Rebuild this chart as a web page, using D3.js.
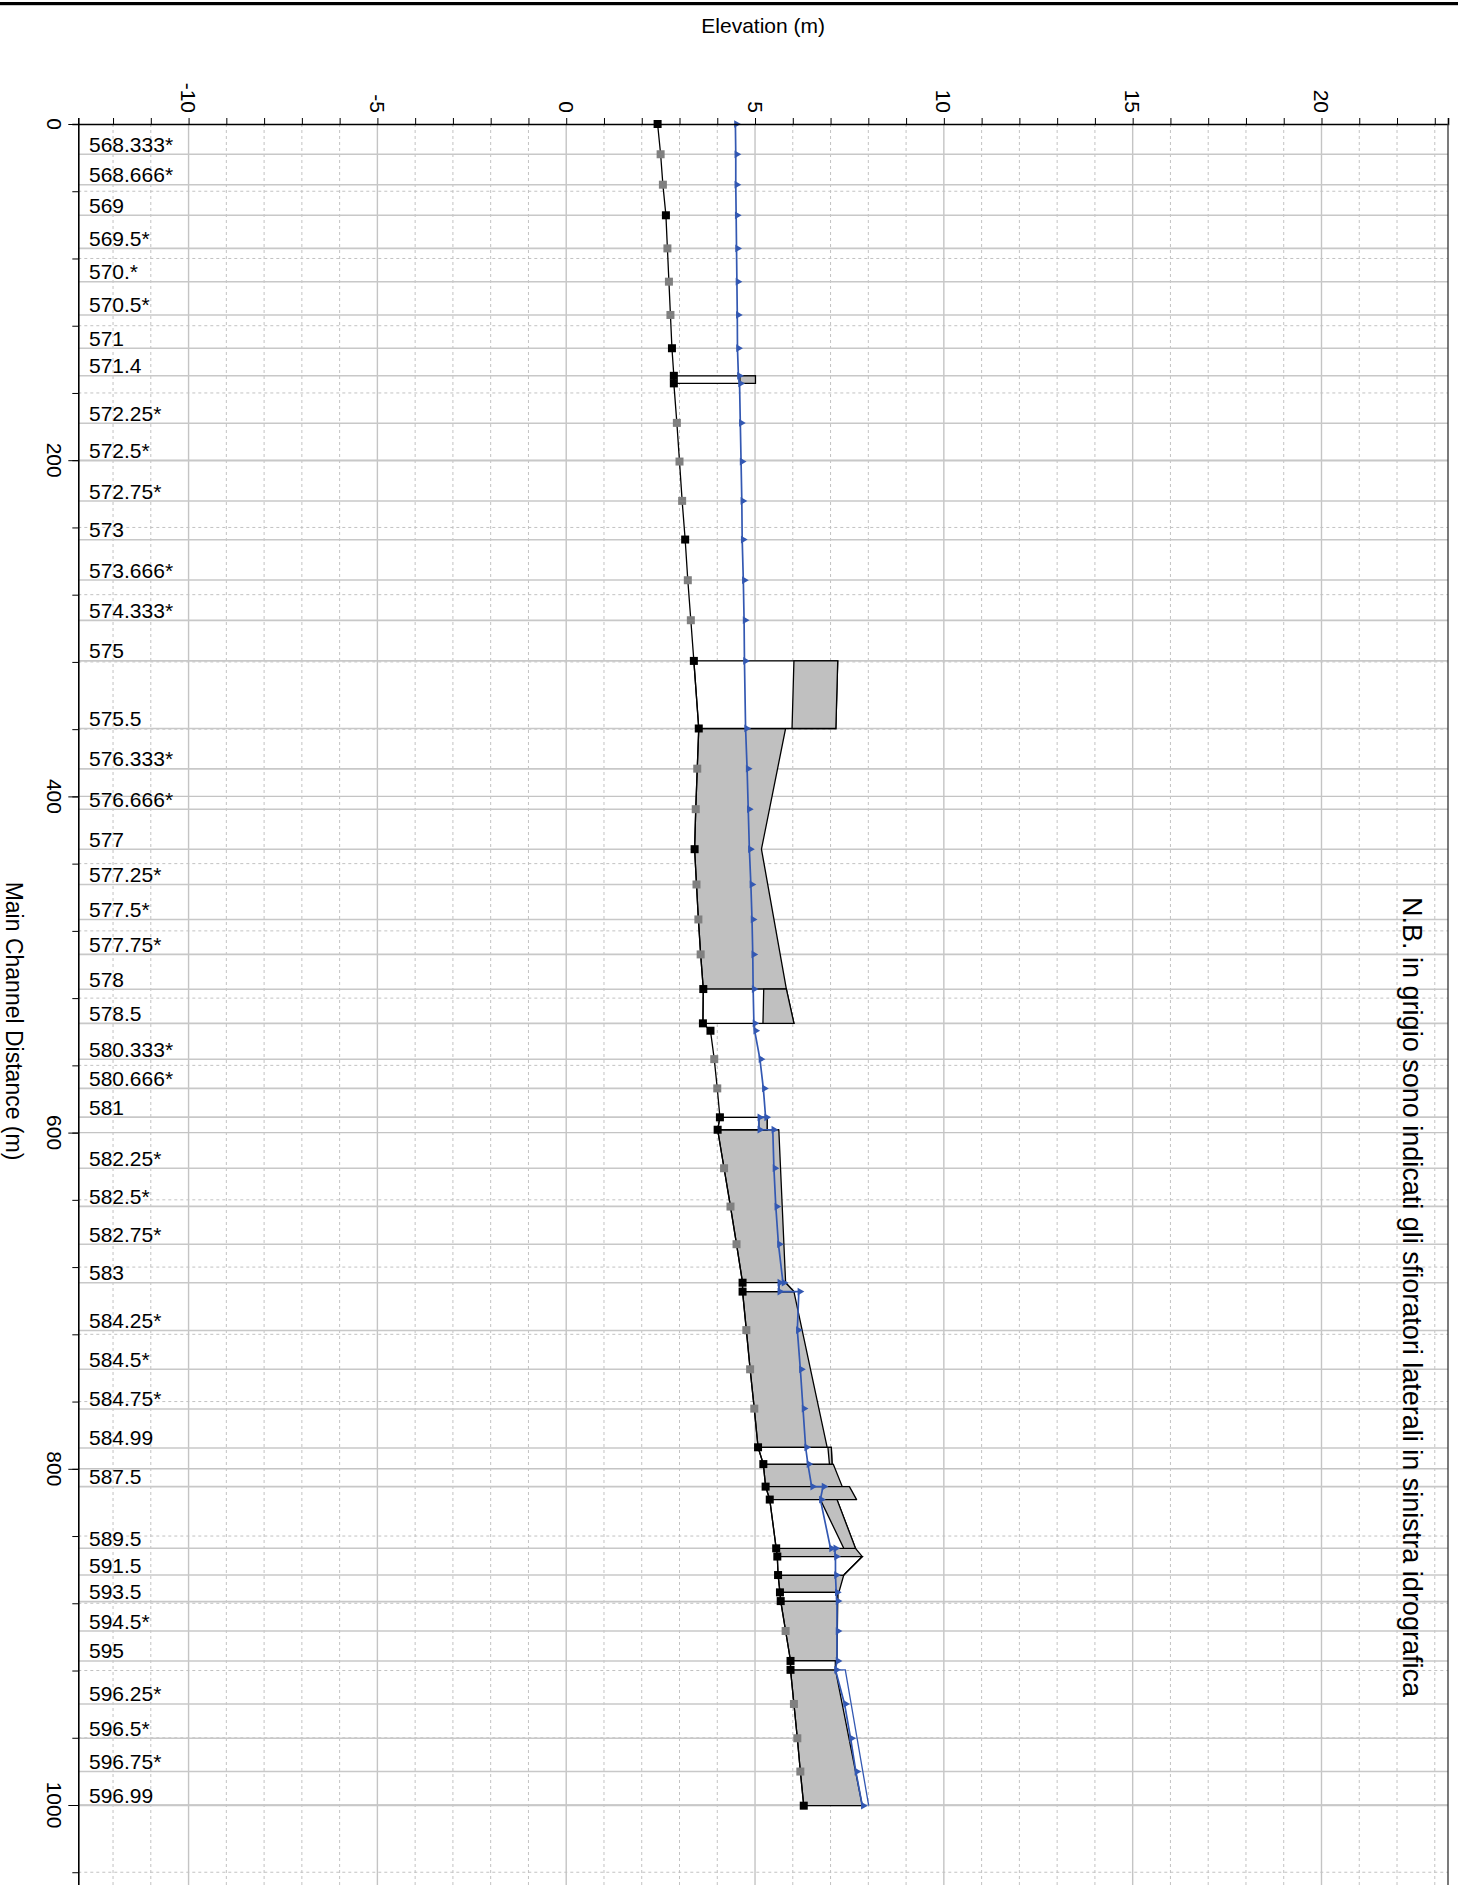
<!DOCTYPE html>
<html><head><meta charset="utf-8">
<script src="https://cdn.jsdelivr.net/npm/d3@7"></script>
<style>
body{margin:0;background:#fff;}
svg{display:block;font-family:"Liberation Sans",Arial,sans-serif;}
</style>
</head><body>
<svg id="c" width="1458" height="1885"></svg>
<script>
// ---------------- DATA ----------------
const elevTickLabels = [-10, -5, 0, 5, 10, 15, 20];
const distTickLabels = [0, 200, 400, 600, 800, 1000];

const stationLabels = ["568.333*","568.666*","569","569.5*","570.*","570.5*","571","571.4","572.25*","572.5*","572.75*","573","573.666*","574.333*","575","575.5","576.333*","576.666*","577","577.25*","577.5*","577.75*","578","578.5","580.333*","580.666*","581","582.25*","582.5*","582.75*","583","584.25*","584.5*","584.75*","584.99","587.5","589.5","591.5","593.5","594.5*","595","596.25*","596.5*","596.75*","596.99"];
const stationDist = [18.0,36.1,54.3,74.0,93.8,113.6,133.4,149.8,178.0,200.3,224.3,247.3,271.3,295.3,319.4,359.6,383.6,407.6,431.4,452.4,473.2,494.0,514.7,535.0,556.4,573.7,590.8,621.2,643.9,666.4,689.3,717.7,740.8,764.4,787.6,810.6,847.3,863.2,879.0,896.5,914.3,939.9,960.3,980.1,1000.2];

// channel bed (Ground)
const bedDist = [0,18,36.1,54.3,74,93.8,113.6,133.4,149.8,154.3,177.8,200.8,224.2,247.2,271.4,295.2,319.4,359.6,383.5,407.6,431.4,452.4,473.2,494,514.6,535,539.4,556.3,573.7,590.9,598.3,621.2,644,666.4,689.3,694.6,717.5,740.8,764.2,787.2,797.2,810.6,818.3,847.3,852.2,863.2,873.5,878.7,896.5,914.3,919.6,939.9,960.3,980.1,1000.4];
const bedElev = [2.42,2.50,2.56,2.64,2.68,2.72,2.76,2.80,2.85,2.85,2.93,3.00,3.07,3.15,3.22,3.30,3.38,3.51,3.47,3.43,3.40,3.45,3.50,3.56,3.63,3.62,3.82,3.92,4.00,4.07,4.01,4.18,4.35,4.51,4.67,4.67,4.77,4.87,4.98,5.08,5.22,5.28,5.39,5.56,5.59,5.61,5.66,5.68,5.81,5.94,5.94,6.03,6.12,6.20,6.29];
const bedReal = [1,0,0,1,0,0,0,1,1,1,0,0,0,1,0,0,1,1,0,0,1,0,0,0,1,1,1,0,0,1,1,0,0,0,1,1,0,0,0,1,1,1,1,1,1,1,1,1,0,1,1,0,0,0,1];

// water surface
const wsDist = [0,18,36.1,54.3,74,93.8,113.6,133.4,149.8,154.3,177.8,200.8,224.2,247.2,271.4,295.2,319.4,359.6,383.5,407.6,431.4,452.4,473.2,494,514.6,535,539.4,556.3,573.7,590.9,590.9,598.3,598.3,621.2,644,666.4,689.3,689.3,694.6,694.6,717.5,740.8,764.2,787.2,797.2,810.6,810.6,818.3,847.3,847.3,852.2,863.2,873.5,878.7,896.5,914.3,919.6,939.9,960.3,980.1,1000.4];
const wsElev = [4.48,4.49,4.49,4.50,4.51,4.52,4.53,4.535,4.56,4.59,4.61,4.63,4.65,4.66,4.69,4.71,4.72,4.75,4.79,4.82,4.85,4.89,4.92,4.94,4.95,4.97,4.99,5.13,5.22,5.28,5.10,5.10,5.47,5.50,5.55,5.62,5.74,5.63,5.63,6.16,6.12,6.20,6.27,6.34,6.40,6.50,6.80,6.73,7.00,7.11,7.13,7.13,7.15,7.17,7.17,7.17,7.13,7.37,7.53,7.67,7.84];
const wsExtra = [[919.6,7.13],[919.6,7.39],[1000.4,8.01]];

// structures: [dist1, dist2, lowChord1, lowChord2, highChord1, highChord2]
const bridges = [
  [149.8,154.3,4.60,4.60,5.01,5.01],
  [319.4,359.6,6.03,5.98,7.19,7.14],
  [514.6,535.0,5.23,5.21,5.83,6.03],
  [590.9,598.3,5.10,5.10,5.32,5.32],
  [689.3,694.6,5.63,5.63,5.81,6.03],
  [787.2,797.2,6.93,6.97,7.02,7.04],
  [818.3,847.3,6.73,7.35,7.17,7.66],
  [852.2,863.2,7.84,7.35,7.84,7.35],
  [873.5,878.7,7.19,7.19,7.19,7.19],
  [914.3,919.6,7.13,7.13,7.13,7.13]
];
// lateral weirs (grey): crest points [dist, elev]
const weirs = [
  [[359.6,5.81],[431.4,5.17],[514.6,5.83]],
  [[598.3,5.63],[689.3,5.81]],
  [[694.6,6.03],[787.2,6.91]],
  [[797.2,7.07],[810.6,7.31]],
  [[810.6,7.50],[818.3,7.69]],
  [[847.3,7.66],[852.2,7.84]],
  [[863.2,7.35],[873.5,7.22]],
  [[878.7,7.19],[914.3,7.17]],
  [[919.6,7.13],[1000.4,7.84]]
];
const note = "N.B. in grigio sono indicati gli sfioratori laterali in sinistra idrografica";

// ---------------- CHART ----------------
const svg = d3.select("#c");
const L = 78.3, R = 1448, T = 124;
const x = d3.scaleLinear().domain([-12.92, 23.35]).range([L, R]);
const y = d3.scaleLinear().domain([0, 1060]).range([T, T + 1060 * 1.681]);
const B = y(1060);

svg.append("rect").attr("x", 0).attr("y", 2).attr("width", 1458).attr("height", 3.2).attr("fill", "#000");

// grid
const gridX = d3.range(-12, 24);
svg.append("g").selectAll("line").data(gridX).join("line")
  .attr("x1", d => x(d)).attr("x2", d => x(d)).attr("y1", T).attr("y2", B)
  .attr("stroke", d => d % 5 === 0 ? "#c4c4c4" : "#c2c2c2")
  .attr("stroke-width", d => d % 5 === 0 ? 1.4 : 1)
  .attr("stroke-dasharray", d => d % 5 === 0 ? null : "3,3");
const gridY = d3.range(40, 1061, 40);
svg.append("g").selectAll("line").data(gridY).join("line")
  .attr("x1", L).attr("x2", R).attr("y1", d => y(d)).attr("y2", d => y(d))
  .attr("stroke", d => d % 200 === 0 ? "#c4c4c4" : "#c2c2c2")
  .attr("stroke-width", d => d % 200 === 0 ? 1.4 : 1)
  .attr("stroke-dasharray", d => d % 200 === 0 ? null : "3,3");

// station lines + labels
const st = stationLabels.map((s, i) => ({ s, d: stationDist[i] }));
svg.append("g").selectAll("line").data(st).join("line")
  .attr("x1", L).attr("x2", R).attr("y1", d => y(d.d)).attr("y2", d => y(d.d))
  .attr("stroke", "#c8c8c8").attr("stroke-width", 1.6);
svg.append("g").selectAll("text").data(st).join("text")
  .attr("x", 89).attr("y", d => y(d.d) - 2.5)
  .attr("font-size", 21).attr("fill", "#000").text(d => d.s);

// helpers
const bed = bedDist.map((d, i) => ({ d, e: bedElev[i], r: bedReal[i] }));
const bedAt = dd => {
  for (let i = 0; i < bed.length - 1; i++) {
    if (dd >= bed[i].d && dd <= bed[i + 1].d) {
      const t = (dd - bed[i].d) / (bed[i + 1].d - bed[i].d || 1);
      return bed[i].e + t * (bed[i + 1].e - bed[i].e);
    }
  }
  return bed[bed.length - 1].e;
};
const bedBetween = (d1, d2) => bed.filter(b => b.d > d1 && b.d < d2).map(b => [b.d, b.e]);
const pt = p => [x(p[1]), y(p[0])];
const poly = pts => "M" + pts.map(p => pt(p).join(",")).join("L") + "Z";

// weirs
svg.append("g").selectAll("path").data(weirs).join("path")
  .attr("d", c => {
    const d1 = c[0][0], d2 = c[c.length - 1][0];
    const base = [[d2, bedAt(d2)], ...bedBetween(d1, d2).reverse(), [d1, bedAt(d1)]];
    return poly([...c, ...base]);
  })
  .attr("fill", "#c0c0c0").attr("stroke", "#000").attr("stroke-width", 1.3).attr("stroke-linejoin", "round");

// bridges: white opening + grey deck
const bg = svg.append("g");
bridges.forEach(b => {
  const [d1, d2, l1, l2, h1, h2] = b;
  bg.append("path").attr("d", poly([[d1, bedAt(d1)], [d1, h1], [d2, h2], [d2, bedAt(d2)], ...bedBetween(d1, d2).reverse()]))
    .attr("fill", "#fff").attr("stroke", "#000").attr("stroke-width", 1.3);
  bg.append("path").attr("d", poly([[d1, l1], [d1, h1], [d2, h2], [d2, l2]]))
    .attr("fill", "#c0c0c0").attr("stroke", "#000").attr("stroke-width", 1.3);
});

// bed line
const line = d3.line().x(p => x(p[1])).y(p => y(p[0]));
svg.append("path").attr("d", line(bed.map(b => [b.d, b.e])))
  .attr("fill", "none").attr("stroke", "#000").attr("stroke-width", 1.3);

// water surface
const blue = "#3358b2";
const ws = wsDist.map((d, i) => [d, wsElev[i]]);
svg.append("path").attr("d", line(ws)).attr("fill", "none").attr("stroke", blue).attr("stroke-width", 1.7);
svg.append("path").attr("d", line(wsExtra)).attr("fill", "none").attr("stroke", blue).attr("stroke-width", 1.3);
const tri = d3.symbol().type(d3.symbolTriangle).size(26);
svg.append("g").selectAll("path").data(ws).join("path")
  .attr("d", tri).attr("fill", blue)
  .attr("transform", p => `translate(${x(p[1]) + 1},${y(p[0])}) rotate(90)`);

// bed markers
svg.append("g").selectAll("rect").data(bed).join("rect")
  .attr("x", b => x(b.e) - 4).attr("y", b => y(b.d) - 4).attr("width", 8).attr("height", 8)
  .attr("fill", b => b.r ? "#000" : "#808080");

// axes
const topMinor = d3.axisTop(x).tickValues(gridX).tickSize(6).tickFormat("");
const gt = svg.append("g").attr("transform", `translate(0,${T})`).call(topMinor);
gt.select(".domain").attr("stroke", "#000").attr("stroke-width", 1.6);
gt.selectAll(".tick line").attr("stroke", "#000").attr("stroke-width", 1);
svg.append("g").selectAll("text").data(elevTickLabels).join("text")
  .attr("transform", d => `translate(${x(d)},${T - 11}) rotate(90)`)
  .attr("text-anchor", "end").attr("dy", "0.35em").attr("font-size", 21).text(d => String(d));

const leftMinor = d3.axisLeft(y).tickValues(d3.range(0, 1061, 40)).tickSize(6).tickFormat("");
const gl = svg.append("g").attr("transform", `translate(${L},0)`).call(leftMinor);
gl.select(".domain").attr("stroke", "#000").attr("stroke-width", 1.6);
gl.selectAll(".tick line").attr("stroke", "#000").attr("stroke-width", 1);
const leftMajor = d3.axisLeft(y).tickValues(distTickLabels).tickSize(10).tickFormat("");
const gl2 = svg.append("g").attr("transform", `translate(${L},0)`).call(leftMajor);
gl2.select(".domain").remove();
gl2.selectAll(".tick line").attr("stroke", "#000").attr("stroke-width", 1);
svg.append("g").selectAll("text").data(distTickLabels).join("text")
  .attr("transform", d => `translate(47,${y(d)}) rotate(90)`)
  .attr("text-anchor", "middle").attr("font-size", 21).text(d => String(d));

// right border
svg.append("line").attr("x1", R).attr("x2", R).attr("y1", T).attr("y2", B).attr("stroke", "#333").attr("stroke-width", 1.3);

// titles
svg.append("text").attr("x", (L + R) / 2).attr("y", 33).attr("text-anchor", "middle")
  .attr("font-size", 21).text("Elevation (m)");
svg.append("text").attr("transform", `translate(6,1021) rotate(90)`).attr("text-anchor", "middle")
  .attr("font-size", 23).text("Main Channel Distance (m)");
svg.append("text").attr("transform", `translate(1403,1297) rotate(90)`).attr("text-anchor", "middle")
  .attr("font-size", 27).text(note);
</script>
</body></html>
